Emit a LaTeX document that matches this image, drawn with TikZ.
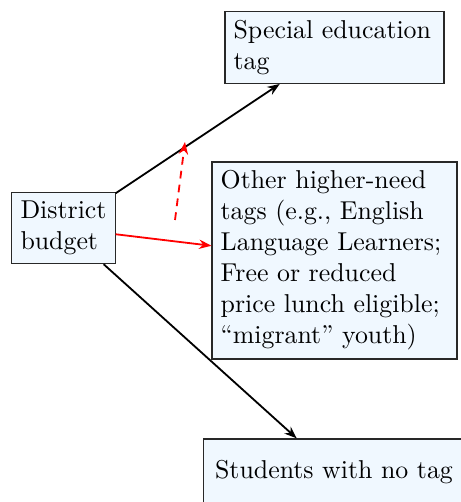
\documentclass[tikz,border=0pt]{standalone}
\usetikzlibrary{arrows.meta}
\definecolor{boxfill}{RGB}{240,248,255}
\definecolor{boxline}{RGB}{40,40,40}
\begin{document}
\begin{tikzpicture}[x=0.387pt,y=-0.387pt,
  tagbox/.style={draw=boxline,fill=boxfill,line width=0.45pt,align=left,inner sep=3.33pt},
  flow/.style={line width=0.7pt,-{Stealth[length=4.8pt,width=3.6pt]}},
  redflow/.style={flow,red},
  reddash/.style={flow,red,dashed,dash pattern=on 3pt off 2.4pt}]
  \useasboundingbox (0,0) rectangle (460,502);

  \node[tagbox] (district) at (63.5,228) {District\\budget};
  \node[tagbox,text width=78.1pt] (special) at (334.5,47.5) {Special education\\tag};
  \node[tagbox,text width=88.1pt] (other) at (334.5,260.5)
    {Other higher-need\\tags (e.g., English\\Language Learners;\\Free or reduced\\price lunch eligible;\\``migrant'' youth)};
  \node[tagbox,minimum width=101pt,minimum height=25.6pt] (students) at (334,472) {Students with no tag};

  \coordinate (dashstart) at (175,220);
  \coordinate (dashend) at (185,142);

  \draw[flow] (district) -- (special);
  \draw[redflow] (district) -- (other);
  \draw[flow] (district) -- (students);
  \draw[reddash] (dashstart) -- (dashend);
\end{tikzpicture}
\end{document}
